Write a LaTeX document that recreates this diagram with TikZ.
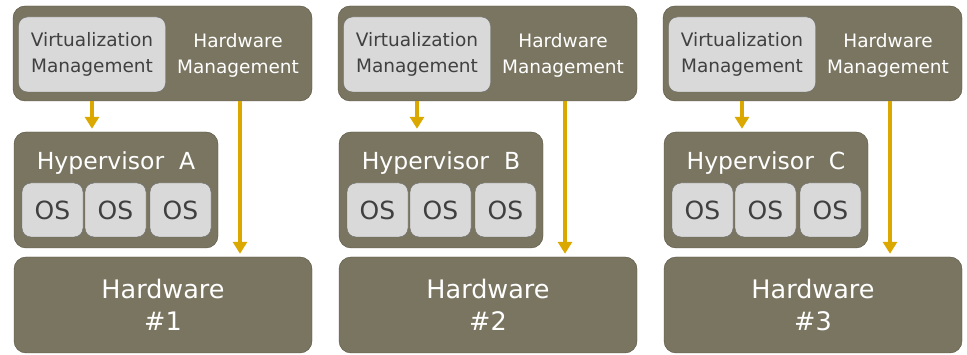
\documentclass[tikz,border=0pt]{standalone}
\usepackage{fontspec}
\setmainfont{DejaVu Sans}
\usetikzlibrary{arrows.meta}
\definecolor{olive}{HTML}{7A7560}
\definecolor{olivedark}{HTML}{55513F}
\definecolor{lightbox}{HTML}{D9D9D9}
\definecolor{lightedge}{HTML}{6A6A6A}
\definecolor{gold}{HTML}{DBA800}
\begin{document}
\begin{tikzpicture}[x=1pt, y=-1pt,
    darkbox/.style={draw=olivedark, fill=olive, rounded corners=12pt, text=white, inner sep=0pt, align=center},
    paleb/.style={draw=lightedge, fill=lightbox, rounded corners=9pt, text=black!75, inner sep=0pt, align=center},
    feed/.style={draw=gold, line width=3.5pt, -{Triangle[width=14pt, length=12pt]}, shorten >=3pt}]
    \useasboundingbox (0, 0) rectangle (967, 355);

    \foreach \i/\l/\n in {0/A/1, 1/B/2, 2/C/3} {
        \begin{scope}[xshift=325*\i]
            \node[darkbox, minimum width=299, minimum height=95] (top\n) at (162.5, 53.5) {};
            \node[paleb, minimum width=147, minimum height=75, font=\fontsize{18.5}{26}\selectfont] (vm\n) at (92, 54.5) {Virtualization\\Management};
            \node[text=white, align=center, font=\fontsize{18.5}{26}\selectfont] (hwm\n) at (238, 55) {Hardware\\Management};

            \node[darkbox, minimum width=204, minimum height=116] (hyp\n) at (116, 190) {};
            \node[text=white, font=\fontsize{23.5}{26}\selectfont] (hypt\n) at (116, 163) {Hypervisor\ \ \l};
            \foreach \k/\x in {1/52.5, 2/115.5, 3/180.5}
                \node[paleb, minimum width=61, minimum height=54, font=\fontsize{25}{26}\selectfont] (os\n-\k) at (\x, 210) {OS};

            \node[darkbox, minimum width=298, minimum height=96, font=\fontsize{25.5}{32}\selectfont] (hw\n) at (163, 305) {Hardware\\\#\n};

            \draw[feed] (vm\n.south |- top\n.south) -- (vm\n.south |- hyp\n.north);
            \draw[feed] ([xshift=2pt]hwm\n.south |- top\n.south) -- ([xshift=2pt]hwm\n.south |- hw\n.north);
        \end{scope}
    }
\end{tikzpicture}
\end{document}
